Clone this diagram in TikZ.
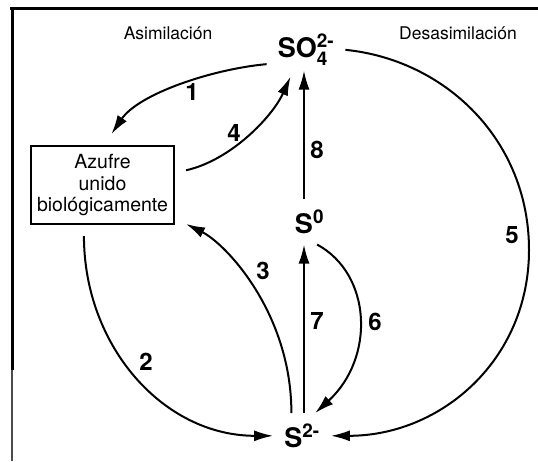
\documentclass[tikz,border=0pt]{standalone}
\usepackage{amsmath}
\usepackage{fontspec}
\setmainfont{TeX Gyre Heros}
\usetikzlibrary{arrows.meta}

\begin{document}
\begin{tikzpicture}[
    x=1pt, y=-1pt,
    species/.style={font=\fontsize{27}{30}\selectfont\bfseries, inner sep=11pt, anchor=base},
    box/.style={rectangle, draw, line width=2pt, minimum width=143pt, minimum height=78pt, align=center, outer sep=12pt, font=\fontsize{19.5}{21.5}\selectfont},
    num/.style={font=\fontsize{24}{24}\selectfont\bfseries},
    heading/.style={font=\fontsize{17.5}{20}\selectfont},
    arrow/.style={-{Latex[length=19pt,width=11pt]}, line width=2pt}
]
\useasboundingbox (0,0) rectangle (538,461);

% Frame
\draw[line width=3pt] (10,8) -- (538,8);
\draw[line width=3pt] (12,8) -- (12,370);
\draw[line width=1.5pt, black!70] (12,370) -- (12,461);

% Species
\node[species] (so4) at (306,57) {SO$^{\text{2-}}_{\text{4}}$};
\node[species] (s0) at (304,233) {S\rlap{$^{\text{0}}$}};
\node[species] (s2) at (302,447) {S$^{\text{2-}}$};

% Bound sulfur
\node[box] (bound) at (102.5,185) {Azufre\\unido\\biológicamente};

% Headings
\node[heading] (asim) at (168,33) {Asimilación};
\node[heading] (desasim) at (458,33) {Desasimilación};

% Arrows
\coordinate (bend5) at (529,250);
\draw[arrow] (so4.200) .. controls +(-55,5) and +(27,-40) .. (bound.80);
\draw[arrow] (bound.250) .. controls +(0,110) and +(-110,0) .. (s2.west);
\draw[arrow] (s2.115) .. controls +(0,-100) and +(40,20) .. (bound.-25);
\draw[arrow] (bound.10) .. controls +(45,-10) and +(-18,40) .. (so4.240);
\draw[arrow] (so4.east) .. controls +(100,10) and +(0,-110) .. (bend5)
    .. controls +(0,110) and +(110,0) .. (s2.east);
\draw[arrow] (s0.-60) .. controls +(55,30) and +(60,-55) .. (s2.60);
\draw[arrow] (s0.south |- s2.north) -- (s0.south);
\draw[arrow] (s0.north) -- ([yshift=6pt]s0.north |- so4.south);

% Labels
\node[num] (n1) at (192,92) {1};
\node[num] (n2) at (146,362) {2};
\node[num] (n3) at (263,271) {3};
\node[num] (n4) at (234,133) {4};
\node[num] (n5) at (512,235) {5};
\node[num] (n6) at (375,322) {6};
\node[num] (n7) at (317,321) {7};
\node[num] (n8) at (317,150) {8};

\end{tikzpicture}
\end{document}
